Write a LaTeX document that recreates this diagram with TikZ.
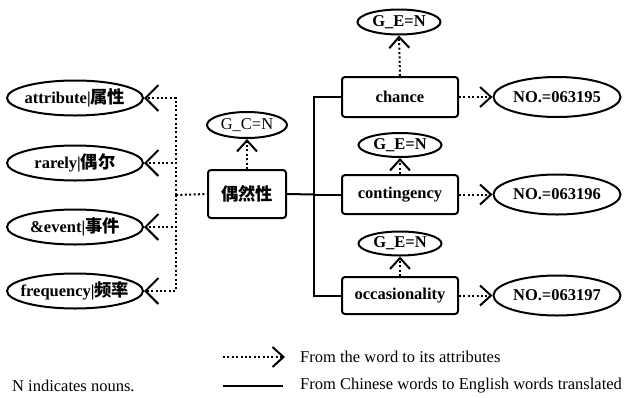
\documentclass[tikz,border=0pt]{standalone}
\usepackage{fontspec}
\setmainfont{Liberation Serif}
\newfontfamily\cjk{Noto Sans CJK SC}[Scale=1.05]
\usetikzlibrary{arrows.meta,shapes.geometric}
\newcommand\ovtext[1]{\makebox[0pt]{#1}}
\tikzset{
  lw/.style={line width=2pt},
  ell/.style={ellipse, draw, lw, inner sep=0pt, font=\fontsize{16.5}{19}\selectfont\bfseries},
  wbox/.style={rectangle, draw, lw, rounded corners=3pt, inner sep=0pt, font=\fontsize{16.5}{19}\selectfont\bfseries},
  dotline/.style={lw, dash pattern=on 2pt off 2.4pt},
  barbL/.style={-{Straight Barb[length=13pt,width=26pt,line width=2pt]}},
  barbU/.style={-{Straight Barb[length=11pt,width=20pt,line width=2pt]}},
  solidline/.style={lw},
  legtext/.style={anchor=west, inner sep=0pt, font=\fontsize{16.5}{19}\selectfont}
}
\begin{document}
\begin{tikzpicture}[x=1pt,y=-1pt]
\useasboundingbox (0,0) rectangle (625,397);
% left attribute ellipses
\node[ell, minimum width=136pt, minimum height=35pt] (a1) at (75,98) {\ovtext{attribute|{\cjk 属性}}};
\node[ell, minimum width=136pt, minimum height=35pt] (a2) at (75,163) {\ovtext{rarely|{\cjk 偶尔}}};
\node[ell, minimum width=136pt, minimum height=35pt] (a3) at (75,227) {\ovtext{\&event|{\cjk 事件}}};
\node[ell, minimum width=136pt, minimum height=35pt] (a4) at (75,291) {\ovtext{frequency|{\cjk 频率}}};
% root
\node[wbox, minimum width=78pt, minimum height=48pt] (root) at (247,194) {\cjk 偶然性};
\node[ell, font=\fontsize{16.5}{19}\selectfont, minimum width=80pt, minimum height=26pt] (gc) at (247,125) {\ovtext{G\_C=N}};
% english boxes
\node[wbox, minimum width=116pt, minimum height=40pt] (b1) at (400,97) {chance};
\node[wbox, minimum width=116pt, minimum height=39pt] (b2) at (400,194.5) {contingency};
\node[wbox, minimum width=116pt, minimum height=37pt] (b3) at (400,295.5) {occasionality};
\node[ell, minimum width=83pt, minimum height=25pt] (g1) at (399,22) {\ovtext{G\_E=N}};
\node[ell, minimum width=83pt, minimum height=24pt] (g2) at (400,145) {\ovtext{G\_E=N}};
\node[ell, minimum width=83pt, minimum height=24pt] (g3) at (400,243.5) {\ovtext{G\_E=N}};
\node[ell, minimum width=127pt, minimum height=40pt] (n1) at (557,97) {\ovtext{NO.=063195}};
\node[ell, minimum width=127pt, minimum height=40pt] (n2) at (557,194.5) {\ovtext{NO.=063196}};
\node[ell, minimum width=127pt, minimum height=40pt] (n3) at (557,295.5) {\ovtext{NO.=063197}};
% left dotted bus
\coordinate (bus) at (176,195);
\draw[dotline] (bus) -- (root.west);
\draw[dotline, barbL] (bus) |- (a1.east);
\draw[dotline, barbL] (bus) |- (a2.east);
\draw[dotline, barbL] (bus) |- (a3.east);
\draw[dotline, barbL] (bus) |- (a4.east);
\draw[dotline, barbU] (root.north) -- (gc.south);
% trunk
\coordinate (trunk) at (314,194.5);
\draw[solidline] (root.east) -- (trunk);
\draw[solidline] (trunk) |- (b1.west);
\draw[solidline] (trunk) -- (b2.west);
\draw[solidline] (trunk) |- (b3.west);
% english attributes
\draw[dotline, barbU] (b1.north) -- (g1.south);
\draw[dotline, barbU] (b2.north) -- (g2.south);
\draw[dotline, barbU] (b3.north) -- (g3.south);
\draw[dotline, barbU] (b1.east) -- (n1.west);
\draw[dotline, barbU] (b2.east) -- (n2.west);
\draw[dotline, barbU] (b3.east) -- (n3.west);
% legend
\coordinate (l1a) at (223,357);
\coordinate (l1b) at (285,357);
\coordinate (l2a) at (223,386);
\coordinate (l2b) at (283,386);
\draw[dotline, barbU] (l1a) -- (l1b);
\draw[solidline] (l2a) -- (l2b);
\node[legtext] (t1) at (300,357) {From the word to its attributes};
\node[legtext] (t2) at (300,386) {From Chinese words to English words translated};
\node[legtext] (t3) at (12,386) {N indicates nouns.};
\end{tikzpicture}
\end{document}
